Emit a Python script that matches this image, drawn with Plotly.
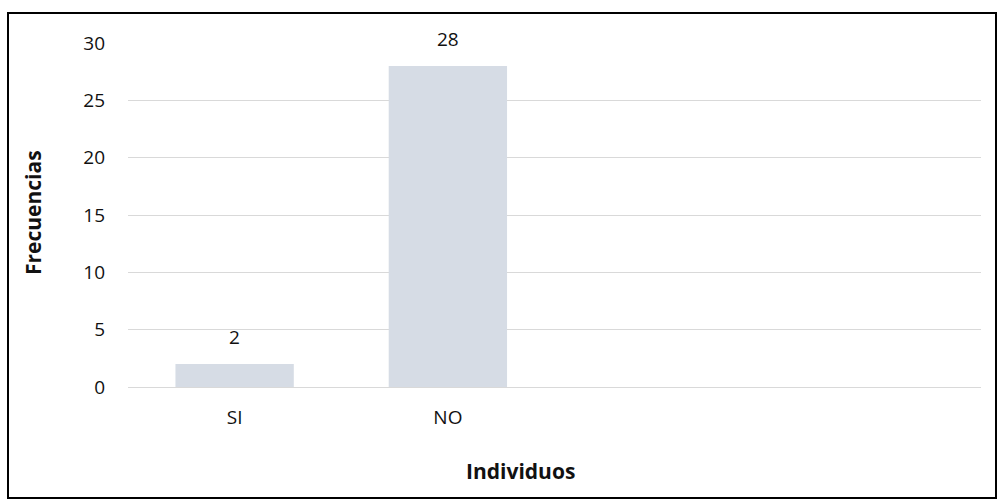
import plotly.graph_objects as go

categories = ["SI", "NO"]
values = [2, 28]
y_ticks = [0, 5, 10, 15, 20, 25, 30]
x_title = "Individuos"
y_title = "Frecuencias"

W, H = 997, 499
ML, MR, MT, MB = 128, 16, 43, 112
pw = W - ML - MR
ph = H - MT - MB

font_family = "'Open Sans', sans-serif"
text_color = "#111111"


def px_x(x):
    return (x - ML) / pw


def px_y(y):
    return (H - MB - y) / ph


fig = go.Figure(
    go.Bar(
        x=categories,
        y=values,
        marker=dict(color="#d6dce5", line=dict(width=0)),
        width=0.555,
        hoverinfo="skip",
    )
)

# value labels above each bar
for c, v in zip(categories, values):
    fig.add_annotation(
        x=c, y=v, text=str(v), showarrow=False,
        yanchor="bottom", yshift=12,
        font=dict(size=19, color=text_color),
    )

# axis titles
fig.add_annotation(
    xref="paper", yref="paper", x=px_x(520), y=px_y(471),
    text=f"<b>{x_title}</b>", showarrow=False,
    xanchor="center", yanchor="middle",
    font=dict(size=21, color=text_color),
)
fig.add_annotation(
    xref="paper", yref="paper", x=px_x(33), y=px_y(213),
    text=f"<b>{y_title}</b>", showarrow=False, textangle=-90,
    xanchor="center", yanchor="middle",
    font=dict(size=21, color=text_color),
)

fig.update_layout(
    width=W,
    height=H,
    margin=dict(l=ML, r=MR, t=MT, b=MB),
    paper_bgcolor="white",
    plot_bgcolor="white",
    font=dict(family=font_family, size=19, color=text_color),
    showlegend=False,
    xaxis=dict(
        type="category",
        range=[-0.5, 3.5],
        showgrid=False,
        showline=False,
        ticks="",
        ticklabelstandoff=17,
        tickfont=dict(size=19),
    ),
    yaxis=dict(
        range=[0, 30],
        tickvals=y_ticks,
        showgrid=True,
        gridcolor="#d9d9d9",
        gridwidth=1.3,
        zeroline=True,
        zerolinecolor="#d9d9d9",
        zerolinewidth=1.3,
        showline=False,
        ticks="",
        ticklabelstandoff=22,
        tickfont=dict(size=19),
    ),
    shapes=[
        dict(
            type="rect",
            xref="paper",
            yref="paper",
            x0=px_x(8),
            x1=px_x(996),
            y0=px_y(498),
            y1=px_y(13),
            line=dict(color="#000000", width=2),
            fillcolor="rgba(0,0,0,0)",
            layer="above",
        )
    ],
)

fig.write_html("out.html")
